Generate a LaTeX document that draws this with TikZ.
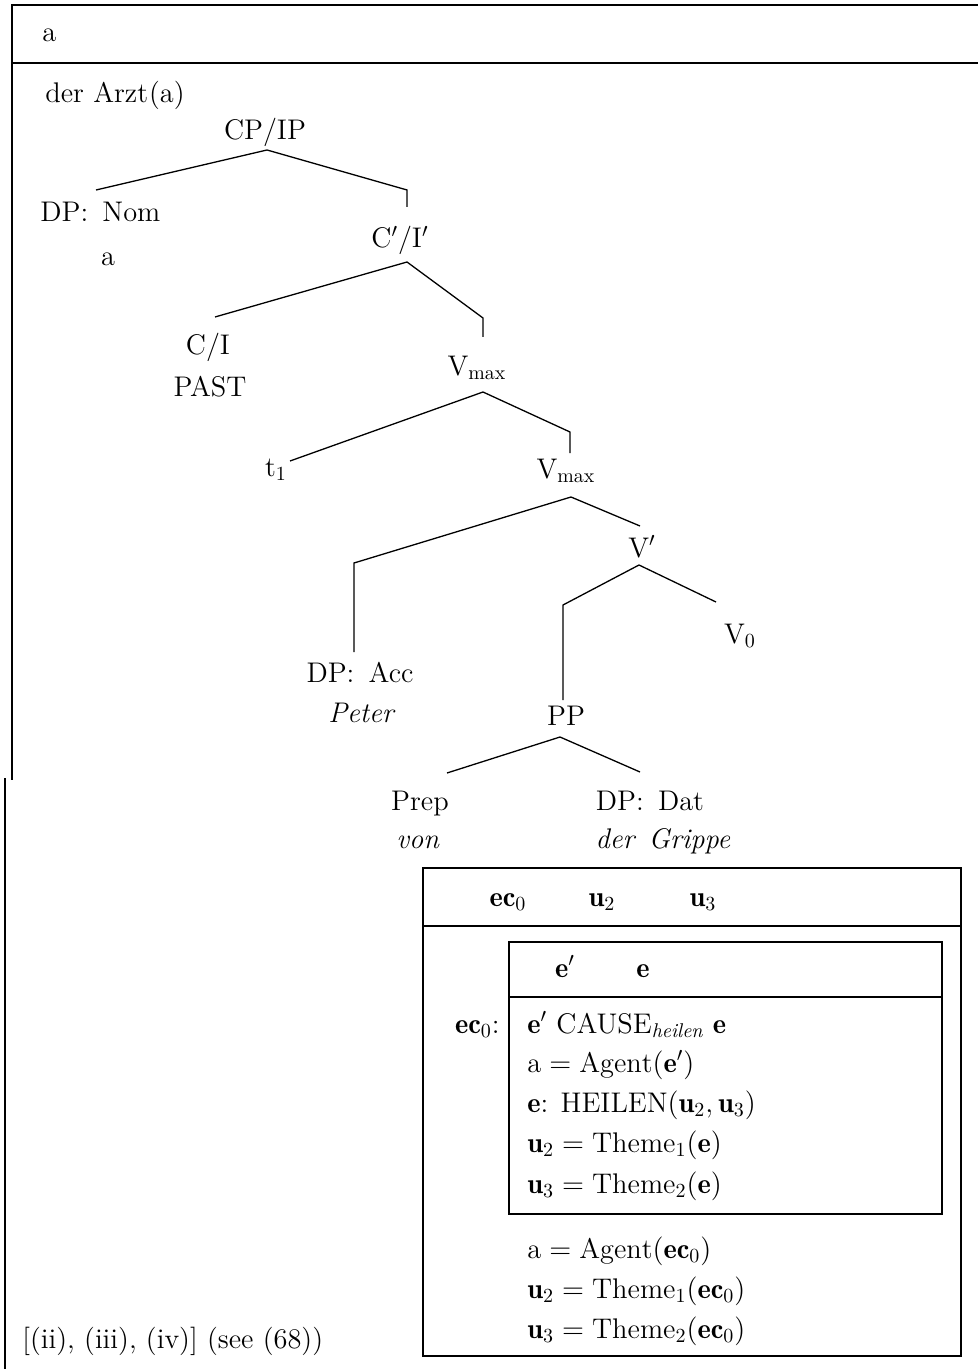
\documentclass[tikz,border=0pt]{standalone}
\usepackage{amsmath}
\usepackage{fontspec}
\begin{document}
\begin{tikzpicture}[x=0.5pt,y=-0.5pt,
  every node/.style={font=\fontsize{14.2}{17}\selectfont, inner sep=0pt},
  lbl/.style={anchor=base},
  lft/.style={anchor=base west},
  frame/.style={line width=0.9pt},
  branch/.style={line width=0.65pt}]
\useasboundingbox (0,0) rectangle (978,1369);
% outer frame
\coordinate (ftl) at (12,5); \coordinate (ftr) at (978,5);
\coordinate (fml) at (12,63); \coordinate (fmr) at (978,63);
\coordinate (fbrk) at (12,780);
\coordinate (fl2t) at (5,778); \coordinate (fl2b) at (5,1369);
\draw[frame] (ftr) -- (ftl) -- (fbrk);
\draw[frame] (fml) -- (fmr);
\draw[frame] (fl2t) -- (fl2b);
% texts
\node[lft] (hdr) at (42,42) {a};
\node[lft] (arzt) at (45,103) {der Arzt\kern0.5pt(a)};
\node[lbl] (cp) at (265,140) {CP/IP};
\node[lft] (dpnom) at (40,222) {DP:\enspace Nom};
\node[lbl] (noma) at (108,266) {a};
\node[lbl] (cbar) at (400,248) {C$'$/I$'$};
\node[lbl] (ci) at (208,355) {C/I};
\node[lbl] (past) at (210,396) {PAST};
\node[lbl] (vmaxa) at (477,375) {V$_{\mathrm{max}}$};
\node[lbl] (tone) at (276,476) {t$_1$};
\node[lbl] (vmaxb) at (566,478) {V$_{\mathrm{max}}$};
\node[lbl] (vbar) at (642,557) {V$'$};
\node[lbl] (vzero) at (740,643) {V$_0$};
\node[lbl] (dpacc) at (360,682) {DP:\enspace Acc};
\node[lbl] (peter) at (362,722) {\textit{Peter}};
\node[lbl] (pp) at (566,725) {PP};
\node[lbl] (prep) at (420,810) {Prep};
\node[lbl] (von) at (418,848) {\textit{von}};
\node[lbl] (dpdat) at (650,810) {DP:\enspace Dat};
\node[lbl] (grippe) at (663,848) {\textit{der\enspace Grippe}};
% branch points
\coordinate (a1) at (267,150); \coordinate (a1l) at (96,190); \coordinate (a1r) at (407,190); \coordinate (a1d) at (407,207);
\coordinate (a2) at (407,262); \coordinate (a2l) at (215,317); \coordinate (a2r) at (483,318); \coordinate (a2d) at (483,337);
\coordinate (a3) at (483,392); \coordinate (a3l) at (290,461); \coordinate (a3r) at (570,432); \coordinate (a3d) at (570,453);
\coordinate (a4) at (571,497); \coordinate (a4l) at (354,563); \coordinate (a4d) at (354,652); \coordinate (a4r) at (640,526);
\coordinate (a5) at (639,565); \coordinate (a5l) at (563,605); \coordinate (a5d) at (563,700); \coordinate (a5r) at (716,602);
\coordinate (a6) at (560,737); \coordinate (a6l) at (447,773); \coordinate (a6r) at (640,772);
\draw[branch] (a1l) -- (a1) -- (a1r) -- (a1d);
\draw[branch] (a2l) -- (a2) -- (a2r) -- (a2d);
\draw[branch] (a3l) -- (a3) -- (a3r) -- (a3d);
\draw[branch] (a4d) -- (a4l) -- (a4) -- (a4r);
\draw[branch] (a5d) -- (a5l) -- (a5) -- (a5r);
\draw[branch] (a6l) -- (a6) -- (a6r);
% DRS box
\coordinate (bo1) at (423,868); \coordinate (bo2) at (961,1356);
\coordinate (boh1) at (423,926); \coordinate (boh2) at (961,926);
\draw[frame] (bo1) rectangle (bo2);
\draw[frame] (boh1) -- (boh2);
\node[lbl] (hec) at (508,906) {$\mathbf{ec}_0$};
\node[lbl] (hu2) at (602,906) {$\mathbf{u}_2$};
\node[lbl] (hu3) at (703,906) {$\mathbf{u}_3$};
\coordinate (bi1) at (509,942); \coordinate (bi2) at (942,1214);
\coordinate (bih1) at (509,997); \coordinate (bih2) at (942,997);
\draw[frame] (bi1) rectangle (bi2);
\draw[frame] (bih1) -- (bih2);
\node[lbl] (hep) at (565,977) {$\mathbf{e}'$};
\node[lbl] (he) at (643,977) {$\mathbf{e}$};
\node[anchor=base east] (eclab) at (500,1033) {$\mathbf{ec}_0$:};
\node[lft] (l1) at (527,1033) {$\mathbf{e}'$ CAUSE$_{\mathit{heilen}}$ $\mathbf{e}$};
\node[lft] (l2) at (527,1072) {$\mathrm{a}=\mathrm{Agent}(\mathbf{e}')$};
\node[lft] (l3) at (527,1112) {$\mathbf{e}$: HEILEN$(\mathbf{u}_2,\mathbf{u}_3)$};
\node[lft] (l4) at (527,1152) {$\mathbf{u}_2=\mathrm{Theme}_1(\mathbf{e})$};
\node[lft] (l5) at (527,1193) {$\mathbf{u}_3=\mathrm{Theme}_2(\mathbf{e})$};
\node[lft] (l6) at (527,1258) {$\mathrm{a}=\mathrm{Agent}(\mathbf{ec}_0)$};
\node[lft] (l7) at (527,1298) {$\mathbf{u}_2=\mathrm{Theme}_1(\mathbf{ec}_0)$};
\node[lft] (l8) at (527,1338) {$\mathbf{u}_3=\mathrm{Theme}_2(\mathbf{ec}_0)$};
\node[lft] (foot) at (22,1348) {[(ii), (iii), (iv)] (see (68))};
\end{tikzpicture}
\end{document}
